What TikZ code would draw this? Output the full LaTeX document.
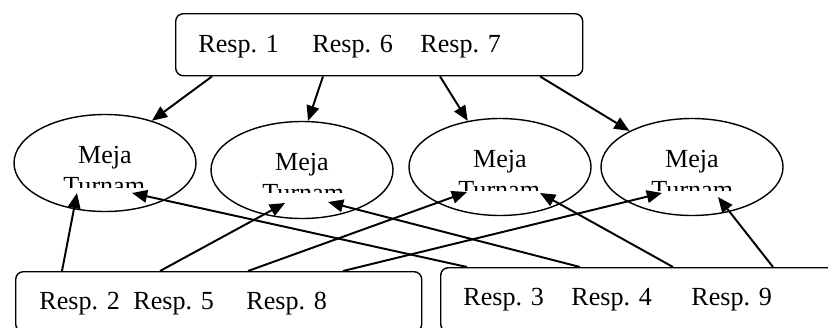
\documentclass[tikz,border=0pt]{standalone}
\usepackage{fontspec}
\setmainfont{Liberation Serif}
\usetikzlibrary{shapes.geometric,arrows.meta,calc}
\def\sk{0.46pt}
\tikzset{
    kotak/.style={draw, rounded corners=3.5pt, line width=0.65pt, inner sep=0pt, anchor=north west},
    meja/.style={draw, ellipse, line width=0.65pt, inner sep=0pt, minimum width=182*\sk, minimum height=97*\sk},
    teks/.style={inner sep=0pt, font=\fontsize{12}{14}\selectfont},
    panah/.style={line width=0.9pt, -{Triangle[length=7pt,width=5.8pt]}}
}

\begin{document}
\begin{tikzpicture}[x=\sk, y=-\sk]
        \useasboundingbox (0,0) rectangle (828,327);
        \clip (0,0) rectangle (828,327);
        \begin{scope}
            \node[kotak, minimum width=407*\sk, minimum height=62*\sk] (kelA) at (175,13) {};
            \node[kotak, minimum width=406*\sk, minimum height=60*\sk] (kelB) at (15,271) {};
            \node[kotak, minimum width=430*\sk, minimum height=64*\sk] (kelC) at (440,267) {};

            \node[teks, anchor=base west] (r1) at (198,52) {Resp. 1};
            \node[teks, anchor=base west] (r6) at (312,52) {Resp. 6};
            \node[teks, anchor=base west] (r7) at (420,52) {Resp. 7};
            \node[teks, anchor=base west] (r2) at (39,309) {Resp. 2};
            \node[teks, anchor=base west] (r5) at (133,309) {Resp. 5};
            \node[teks, anchor=base west] (r8) at (246,309) {Resp. 8};
            \node[teks, anchor=base west] (r3) at (463,305) {Resp. 3};
            \node[teks, anchor=base west] (r4) at (571,305) {Resp. 4};
            \node[teks, anchor=base west] (r9) at (691,305) {Resp. 9};

            \node[meja] (meja1) at (105,163) {};
            \node[meja] (meja2) at (302,170) {};
            \node[meja] (meja3) at (500,167) {};
            \node[meja] (meja4) at (692,167) {};

            \node[teks, anchor=base] (mj1) at (meja1.center) {Meja};
            \node[teks, anchor=base] (mj2) at (meja2.center) {Meja};
            \node[teks, anchor=base] (mj3) at (meja3.center) {Meja};
            \node[teks, anchor=base] (mj4) at (meja4.center) {Meja};
        \end{scope}

        \begin{scope}
            \clip ($(meja1)+(-60,0)$) rectangle ($(meja1)+(60,24)$);
            \node[teks, anchor=base west] (tr1) at ($(meja1)+(-42,31.5)$) {Turnam};
        \end{scope}
        \begin{scope}
            \clip ($(meja2)+(-60,0)$) rectangle ($(meja2)+(60,22)$);
            \node[teks, anchor=base west] (tr2) at ($(meja2)+(-40,31.5)$) {Turnam};
        \end{scope}
        \begin{scope}
            \clip ($(meja3)+(-60,0)$) rectangle ($(meja3)+(60,23)$);
            \node[teks, anchor=base west] (tr3) at ($(meja3)+(-42,31.5)$) {Turnam};
        \end{scope}
        \begin{scope}
            \clip ($(meja4)+(-60,0)$) rectangle ($(meja4)+(60,23)$);
            \node[teks, anchor=base west] (tr4) at ($(meja4)+(-41,31.5)$) {Turnam};
        \end{scope}

        \begin{scope}
            \draw[panah] ($(kelA.south west)+(37,0)$) -- (meja1.42.5);
            \draw[panah] ($(kelA.south west)+(148,0)$) -- (meja2.83);
            \draw[panah] ($(kelA.south west)+(265,0)$) -- (meja3.125);
            \draw[panah] ($(kelA.south west)+(365,0)$) -- (meja4.150);

            \draw[panah] ($(kelB.north west)+(47,0)$) -- ($(meja1)+(-28,30)$);
            \draw[panah] ($(kelB.north west)+(145,0)$) -- ($(meja2)+(-17,33)$);
            \draw[panah] ($(kelB.north west)+(233,0)$) -- ($(meja3)+(-33,25)$);
            \draw[panah] ($(kelB.north west)+(328,0)$) -- ($(meja4)+(-30,26)$);

            \draw[panah] ($(kelC.north west)+(27,0)$) -- ($(meja1)+(27,30)$);
            \draw[panah] ($(kelC.north west)+(140,0)$) -- ($(meja2)+(26,32)$);
            \draw[panah] ($(kelC.north west)+(233,0)$) -- ($(meja3)+(40,26)$);
            \draw[panah] ($(kelC.north west)+(333,0)$) -- ($(meja4)+(26,30)$);
        \end{scope}
    \end{tikzpicture}
\end{document}
